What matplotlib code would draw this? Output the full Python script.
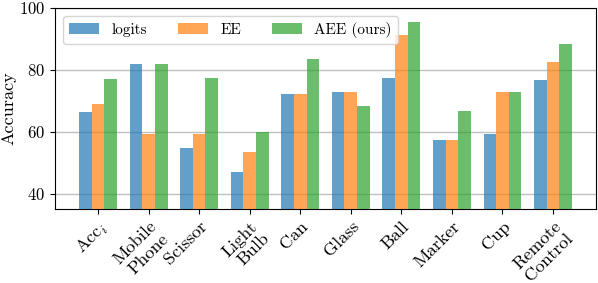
import matplotlib
matplotlib.use('Agg')
import matplotlib.pyplot as plt
import numpy as np

plt.rcParams['font.family'] = 'cmr10'
plt.rcParams['mathtext.fontset'] = 'cm'
plt.rcParams['axes.formatter.use_mathtext'] = True

categories = ['Acc$_i$', 'Mobile\nPhone', 'Scissor', 'Light\nBulb', 'Can',
              'Glass', 'Ball', 'Marker', 'Cup', 'Remote\nControl']
logits = [66.5, 81.9, 54.6, 46.8, 72.3, 72.8, 77.3, 57.2, 59.3, 76.7]
ee = [68.9, 59.3, 59.3, 53.4, 72.3, 72.8, 91.1, 57.2, 72.8, 82.5]
aee = [77.1, 81.9, 77.3, 59.9, 83.4, 68.3, 95.5, 66.8, 72.8, 88.4]

fig = plt.figure(figsize=(5.98, 2.83), dpi=100)
ax = fig.add_axes([0.092, 0.2615, 0.9047, 0.7105])

x = np.arange(len(categories))
w = 0.25
ax.bar(x - w, logits, w, color='tab:blue', alpha=0.7, label='logits', zorder=3)
ax.bar(x, ee, w, color='tab:orange', alpha=0.7, label='EE', zorder=3)
ax.bar(x + w, aee, w, color='tab:green', alpha=0.7, label='AEE (ours)', zorder=3)

ax.set_ylim(35, 100)
ax.set_xlim(-0.85, 9.85)
ax.set_yticks([40, 60, 80, 100])
ax.yaxis.grid(True, color='#c0c0c0', linewidth=1.0, zorder=0)
ax.set_axisbelow(True)
ax.set_ylabel('Accuracy', fontsize=13, labelpad=2)
ax.set_xticks(x)
ax.set_xticklabels(categories, rotation=45, ha='right', rotation_mode='anchor',
                   fontsize=13, linespacing=1.15)
ax.tick_params(axis='y', labelsize=12)
ax.legend(loc='upper left', ncol=3, fontsize=11, framealpha=0.8)

fig.savefig('out.png', dpi=100)
